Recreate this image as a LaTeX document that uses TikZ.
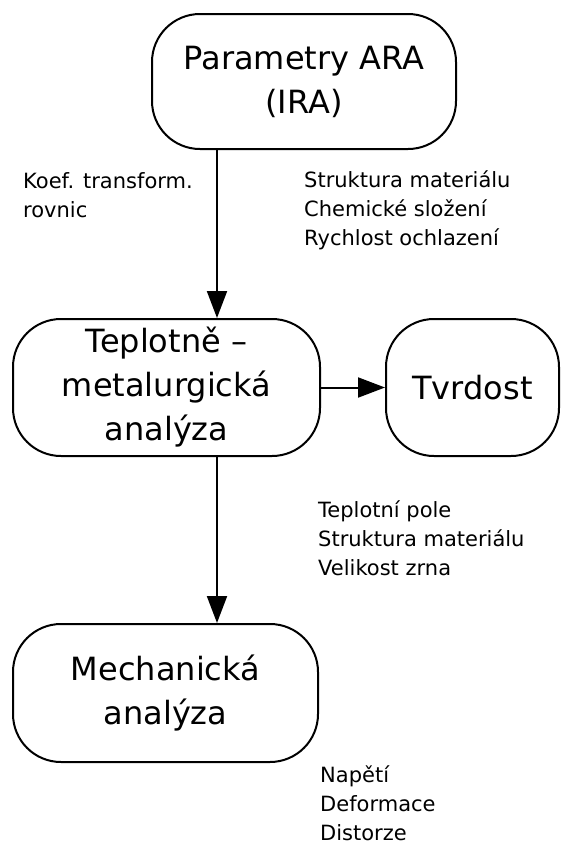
\documentclass[tikz,border=0pt]{standalone}
\usepackage{fontspec}
\setmainfont{DejaVu Sans}
\usetikzlibrary{arrows.meta}
\begin{document}
\begin{tikzpicture}[x=1pt,y=-1pt,
        box/.style={draw, line width=2pt, rounded corners=48pt, align=center,
                font=\fontsize{32}{44}\selectfont, inner sep=0pt},
        note/.style={anchor=base west, align=left, inner sep=0pt,
                font=\fontsize{21}{29}\selectfont},
        arr/.style={line width=2pt, -{Triangle[length=27pt,width=20pt]}}]
        \useasboundingbox (0,0) rectangle (561,844);
        % boxes
        \node[box, minimum width=304pt, minimum height=135pt] (param) at (304,81.5) {Parametry ARA\\(IRA)};
        \node[box, minimum width=307pt, minimum height=137pt] (teplo) at (166.5,387.5) {Teplotně –\\metalurgická\\analýza};
        \node[box, minimum width=173pt, minimum height=137pt] (tvrd) at (472.5,387.5) {Tvrdost};
        \node[box, minimum width=305pt, minimum height=138pt] (mech) at (165.5,693) {Mechanická\\analýza};
        % arrows
        \draw[arr] ([xshift=50.5pt]teplo.north |- param.south) -- ([xshift=50.5pt]teplo.north);
        \draw[arr] (teplo.east) -- (tvrd.west);
        \draw[arr] ([xshift=50.5pt]teplo.south) -- ([xshift=50.5pt]teplo.south |- mech.north);
        % notes (anchored at the last line)
        \node[note] (koef) at (23,217) {Koef. transform.\\rovnic};
        \node[note] (vstup) at (304,245) {Struktura materiálu\\Chemické složení\\Rychlost ochlazení};
        \node[note] (pole) at (318,575) {Teplotní pole\\Struktura materiálu\\Velikost zrna};
        \node[note] (napeti) at (320,840) {Napětí\\Deformace\\Distorze};
\end{tikzpicture}
\end{document}
